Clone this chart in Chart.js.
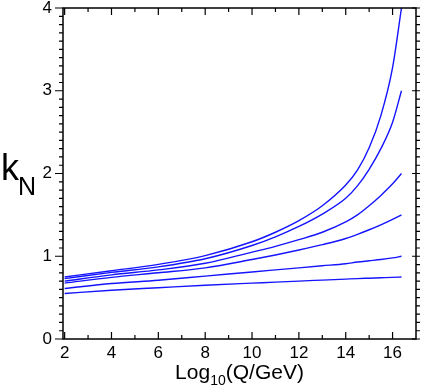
<!DOCTYPE html>
<html lang="en">
<head>
<meta charset="UTF-8">
<title>k_N vs Log10(Q/GeV)</title>
<script src="https://cdn.jsdelivr.net/npm/chart.js"></script>
<style>
  html, body { margin: 0; padding: 0; background: #fff; }
</style>
</head>
<body>
<canvas id="kChart" width="425" height="391"></canvas>
<script>
// x = log10(Q/GeV), curves
const logQ   = [2, 4, 6, 8, 10, 11, 12, 13, 14, 14.5, 15, 15.5, 16, 16.38];
const kTo4   = [0.75, 0.825, 0.902, 1.008, 1.175, 1.29, 1.43, 1.61, 1.86, 2.04, 2.31, 2.70, 3.28, 4.0];
const kTo3   = [0.73, 0.805, 0.872, 0.97, 1.13, 1.235, 1.36, 1.51, 1.70, 1.85, 2.05, 2.30, 2.62, 3.0];
const kTo2   = [0.70, 0.775, 0.835, 0.915, 1.05, 1.12, 1.20, 1.29, 1.415, 1.50, 1.61, 1.735, 1.875, 2.0];
const kTo15  = [0.675, 0.745, 0.80, 0.86, 0.96, 1.015, 1.075, 1.14, 1.215, 1.265, 1.32, 1.38, 1.445, 1.5];
const kTo1   = [0.61, 0.67, 0.71, 0.76, 0.81, 0.835, 0.86, 0.885, 0.91, 0.93, 0.945, 0.96, 0.98, 1.0];
const kTo075 = [0.55, 0.59, 0.62, 0.65, 0.675, 0.687, 0.70, 0.712, 0.724, 0.73, 0.735, 0.74, 0.745, 0.75];

const xTicks = [2, 4, 6, 8, 10, 12, 14, 16];
const xMinor = [3, 5, 7, 9, 11, 13, 15];
const yTicks = [0, 1, 2, 3, 4];

const FONT = '"Liberation Sans", Arial, Helvetica, sans-serif';

const curves = [kTo4, kTo3, kTo2, kTo15, kTo1, kTo075];
const datasets = curves.map(vals => ({
  data: logQ.map((x, i) => ({ x: x, y: vals[i] })),
  borderColor: '#1414ff',
  borderWidth: 1.4,
  pointRadius: 0,
  fill: false,
  cubicInterpolationMode: 'monotone'
}));

// frame, tick marks and the axis titles
const framePlugin = {
  id: 'frame',
  afterDraw(chart) {
    const ctx = chart.ctx;
    const a = chart.chartArea;
    const xs = chart.scales.x, ys = chart.scales.y;
    ctx.save();
    ctx.strokeStyle = '#000';
    ctx.lineWidth = 1.5;
    ctx.strokeRect(a.left, a.top, a.right - a.left, a.bottom - a.top);

    ctx.lineWidth = 1.2;
    ctx.beginPath();
    xTicks.forEach(v => {
      const px = xs.getPixelForValue(v);
      ctx.moveTo(px, a.bottom); ctx.lineTo(px, a.bottom - 7);
      ctx.moveTo(px, a.top); ctx.lineTo(px, a.top + 7);
    });
    xMinor.forEach(v => {
      const px = xs.getPixelForValue(v);
      ctx.moveTo(px, a.bottom); ctx.lineTo(px, a.bottom - 4);
      ctx.moveTo(px, a.top); ctx.lineTo(px, a.top + 4);
    });
    for (let i = 0; i <= 40; i++) {
      const py = ys.getPixelForValue(i / 10);
      const major = i % 10 === 0;
      ctx.moveTo(a.left, py); ctx.lineTo(a.left - (major ? 8 : 4), py);
      ctx.moveTo(a.right - (major ? 4 : 0), py); ctx.lineTo(a.right + 4, py);
    }
    ctx.stroke();

    ctx.fillStyle = '#000';
    ctx.textBaseline = 'alphabetic';
    // y title: k with subscript N
    ctx.font = '36px ' + FONT;
    ctx.textAlign = 'left';
    ctx.fillText('k', 1, 180);
    ctx.font = '25px ' + FONT;
    ctx.fillText('N', 18, 195);

    // x title: Log10(Q/GeV)
    const cx = (a.left + a.right) / 2;
    const big = '21px ' + FONT, small = '14px ' + FONT;
    ctx.font = big;
    const w1 = ctx.measureText('Log').width;
    const w3 = ctx.measureText('(Q/GeV)').width;
    ctx.font = small;
    const w2 = ctx.measureText('10').width;
    const x0 = cx - (w1 + w2 + w3) / 2;
    const base = 379;
    ctx.font = big;
    ctx.fillText('Log', x0, base);
    ctx.font = small;
    ctx.fillText('10', x0 + w1, base + 6);
    ctx.font = big;
    ctx.fillText('(Q/GeV)', x0 + w1 + w2, base);
    ctx.restore();
  }
};

const chart = new Chart(document.getElementById('kChart'), {
  type: 'line',
  data: { datasets: datasets },
  options: {
    responsive: false,
    animation: false,
    layout: { padding: { left: 0, right: 9, top: 8, bottom: 0 } },
    plugins: { legend: { display: false }, tooltip: { enabled: false } },
    scales: {
      x: {
        type: 'linear',
        min: 1.93,
        max: 17,
        afterBuildTicks: s => { s.ticks = xTicks.map(v => ({ value: v })); },
        afterFit: s => { s.height = 52; s.paddingLeft = 0; s.paddingRight = 0; },
        grid: { display: false, drawTicks: false },
        border: { display: false },
        ticks: { color: '#000', font: { family: FONT, size: 17 }, padding: 4, maxRotation: 0, autoSkip: false }
      },
      y: {
        min: 0,
        max: 4,
        afterBuildTicks: s => { s.ticks = yTicks.map(v => ({ value: v })); },
        afterFit: s => { s.width = 63; s.paddingTop = 0; s.paddingBottom = 0; },
        grid: { display: false, drawTicks: false },
        border: { display: false },
        ticks: { color: '#000', font: { family: FONT, size: 17 }, padding: 11 }
      }
    }
  },
  plugins: [framePlugin]
});
</script>
</body>
</html>
